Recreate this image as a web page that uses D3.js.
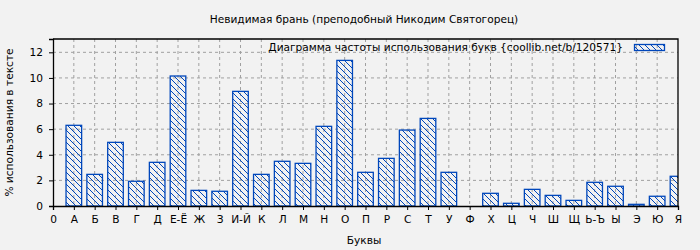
<title>Невидимая брань</title>

<script src="https://d3js.org/d3.v7.min.js"></script>
<style>
    body {
      margin: 0;
      background: #f2f2f2;
      font: 10.6px "DejaVu Sans", sans-serif;
    }
</style>

<body>
    <div id="plot"></div>
</body>

<script>
    var letters = ["А","Б","В","Г","Д","Е-Ё","Ж","З","И-Й","К","Л","М","Н","О","П",
                   "Р","С","Т","У","Ф","Х","Ц","Ч","Ш","Щ","Ь-Ъ","Ы","Э","Ю","Я"];
    var percents = [6.3, 2.47, 4.97, 1.93, 3.41, 10.15, 1.22, 1.15, 8.95, 2.47, 3.49, 3.33, 6.22, 11.37, 2.63,
                    3.72, 5.93, 6.84, 2.63, 0, 0.99, 0.21, 1.3, 0.83, 0.44, 1.85, 1.54, 0.13, 0.76, 2.32];
    var tickLabels = ["0"].concat(letters);
    var yTicks = [0, 2, 4, 6, 8, 10, 12];

    var title = "Невидимая брань (преподобный Никодим Святогорец)";
    var legendText = "Диаграмма частоты использования букв {coollib.net/b/120571}";

    var margin = {top: 39, right: 22, bottom: 44, left: 53},
        width = 700 - margin.left - margin.right,
        height = 250 - margin.top - margin.bottom;

    var blue = "#0047bb";
    var font = "10.6px 'DejaVu Sans', sans-serif";

    var root = d3.select("#plot")
        .append("svg")
            .attr("width", 700)
            .attr("height", 250);

    var defs = root.append("defs");
    var pat = defs.append("pattern")
        .attr("id", "hatch")
        .attr("patternUnits", "userSpaceOnUse")
        .attr("width", 6)
        .attr("height", 6);
    pat.append("path")
        .attr("d", "M-1,-1 L7,7 M-7,-1 L1,7 M5,-1 L13,7")
        .attr("stroke", blue)
        .attr("stroke-width", 1);

    defs.append("clipPath").attr("id", "clip")
        .append("rect")
        .attr("width", width)
        .attr("height", height);

    var svg = root.append("g")
        .attr("transform", "translate(" + margin.left + "," + margin.top + ")");

    // scales
    var x = d3.scaleLinear().domain([0, 30]).range([0, width]);
    var y = d3.scaleLinear().domain([0, 13.04]).range([height, 0]);
    var barW = 15.6;

    // grid
    svg.append("g")
        .selectAll("line")
        .data(d3.range(1, 30))
        .enter()
        .append("line")
        .attr("x1", function (d) { return x(d); })
        .attr("x2", function (d) { return x(d); })
        .attr("y1", 0)
        .attr("y2", height)
        .attr("stroke", "#a0a0a0")
        .attr("stroke-dasharray", "3,3");
    svg.append("g")
        .selectAll("line")
        .data(yTicks.slice(1))
        .enter()
        .append("line")
        .attr("x1", 0)
        .attr("x2", width)
        .attr("y1", function (d) { return y(d); })
        .attr("y2", function (d) { return y(d); })
        .attr("stroke", "#a0a0a0")
        .attr("stroke-dasharray", "3,3");

    // bars
    svg.append("g")
        .attr("clip-path", "url(#clip)")
        .selectAll("rect")
        .data(percents)
        .enter()
        .append("rect")
        .attr("display", function (d) { return d > 0 ? null : "none"; })
        .attr("x", function (d, i) { return x(i + 1) - barW / 2; })
        .attr("y", function (d) { return y(d); })
        .attr("width", barW)
        .attr("height", function (d) { return height - y(d); })
        .attr("fill", "url(#hatch)")
        .attr("stroke", blue)
        .attr("stroke-width", 1.3);

    // frame
    svg.append("path")
        .attr("d", "M0,0 H" + width + " V" + height)
        .attr("fill", "none")
        .attr("stroke", "#000")
        .attr("stroke-width", 1.3);

    // axes
    var xAxis = svg.append("g")
        .attr("transform", "translate(0," + height + ")")
        .call(d3.axisBottom(x)
            .tickValues(d3.range(0, 31))
            .tickFormat(function (d) { return tickLabels[d]; })
            .tickSize(4)
            .tickPadding(5));
    xAxis.selectAll("text").style("font", font).attr("fill", "#000");

    var yAxis = svg.append("g")
        .call(d3.axisLeft(y)
            .tickValues(yTicks)
            .tickSize(4)
            .tickPadding(6));
    yAxis.selectAll("text").style("font", font).attr("fill", "#000");
    svg.selectAll(".domain").attr("stroke-width", 1.3);

    // texts
    root.append("text")
        .attr("x", 364)
        .attr("y", 23)
        .attr("text-anchor", "middle")
        .text(title);

    root.append("text")
        .attr("x", 364)
        .attr("y", 244)
        .attr("text-anchor", "middle")
        .text("Буквы");

    root.append("text")
        .attr("transform", "translate(13," + (margin.top + height / 2) + ") rotate(-90)")
        .attr("text-anchor", "middle")
        .text("% использования в тексте");

    // legend
    root.append("text")
        .attr("x", 623)
        .attr("y", 51)
        .attr("text-anchor", "end")
        .text(legendText);
    root.append("rect")
        .attr("x", 634.5)
        .attr("y", 44.5)
        .attr("width", 30)
        .attr("height", 6)
        .attr("fill", "url(#hatch)")
        .attr("stroke", blue)
        .attr("stroke-width", 1.3);
</script>
